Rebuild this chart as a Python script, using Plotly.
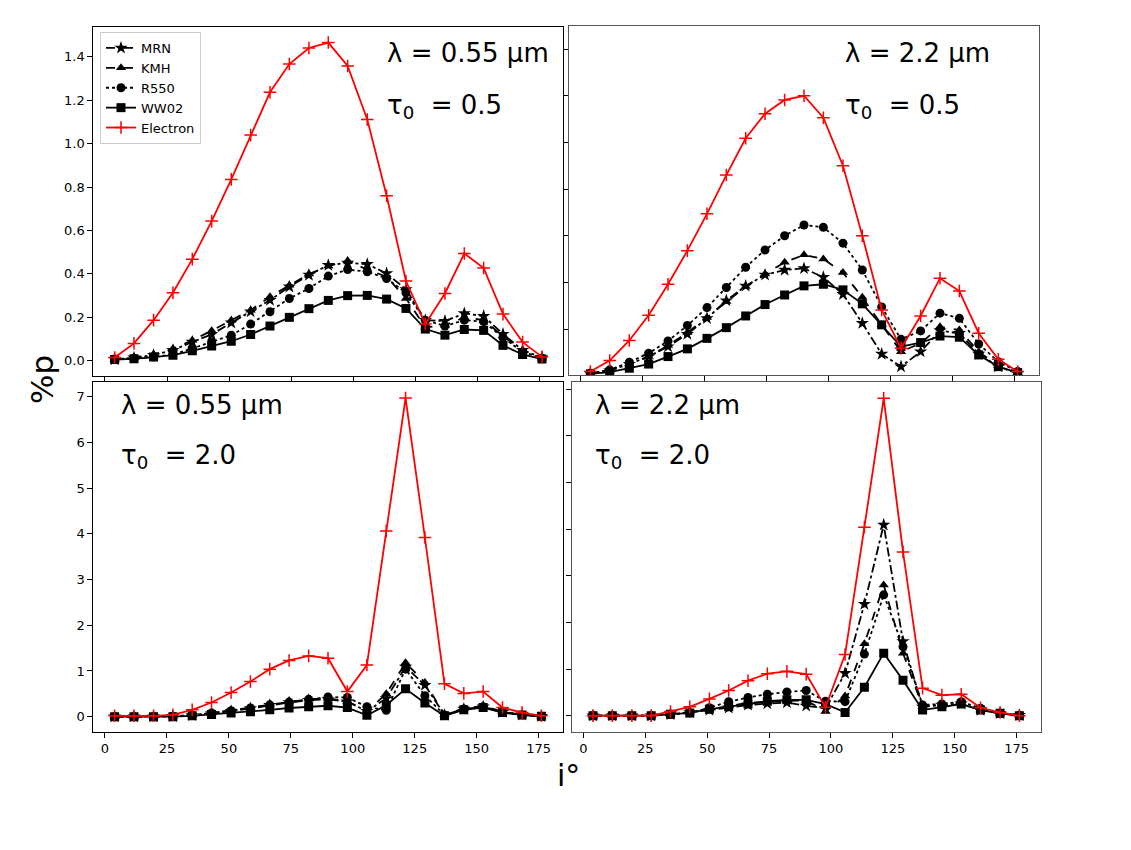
import plotly.graph_objects as go

# viewing angle i (deg), 23 bins
angle_deg = [3.9, 11.7, 19.6, 27.4, 35.2, 43.0, 50.9, 58.7, 66.5, 74.3, 82.2, 90.0,
             97.8, 105.7, 113.5, 121.3, 129.1, 137.0, 144.8, 152.6, 160.4, 168.3, 176.1]

# lambda = 0.55 um, tau0 = 0.5
tl_mrn = [0.006, 0.014, 0.026, 0.049, 0.087, 0.121, 0.175, 0.226, 0.279, 0.341, 0.395, 0.440,
          0.451, 0.445, 0.402, 0.329, 0.187, 0.183, 0.218, 0.206, 0.123, 0.049, 0.015]
tl_kmh = [0.005, 0.013, 0.030, 0.055, 0.095, 0.138, 0.187, 0.233, 0.295, 0.348, 0.399, 0.436,
          0.460, 0.420, 0.387, 0.287, 0.154, 0.164, 0.200, 0.187, 0.114, 0.046, 0.012]
tl_r550 = [0.008, 0.011, 0.018, 0.029, 0.057, 0.087, 0.118, 0.169, 0.226, 0.287, 0.333, 0.390,
           0.420, 0.410, 0.379, 0.313, 0.187, 0.160, 0.187, 0.180, 0.107, 0.041, 0.012]
tl_ww02 = [0.006, 0.009, 0.017, 0.026, 0.046, 0.068, 0.090, 0.121, 0.160, 0.200, 0.240, 0.278,
           0.300, 0.301, 0.284, 0.241, 0.146, 0.118, 0.144, 0.140, 0.071, 0.029, 0.008]
tl_electron = [0.015, 0.080, 0.187, 0.313, 0.468, 0.643, 0.835, 1.039, 1.236, 1.366, 1.440, 1.465,
               1.357, 1.111, 0.760, 0.367, 0.169, 0.310, 0.494, 0.427, 0.215, 0.086, 0.018]

# lambda = 2.2 um, tau0 = 0.5
tr_mrn = [0.011, 0.023, 0.051, 0.083, 0.126, 0.179, 0.247, 0.323, 0.386, 0.433, 0.454, 0.461,
          0.423, 0.350, 0.226, 0.094, 0.040, 0.104, 0.194, 0.183, 0.094, 0.040, 0.011]
tr_kmh = [0.011, 0.023, 0.051, 0.083, 0.130, 0.186, 0.251, 0.319, 0.383, 0.437, 0.487, 0.519,
          0.501, 0.443, 0.337, 0.219, 0.104, 0.140, 0.211, 0.197, 0.104, 0.044, 0.014]
tr_r550 = [0.011, 0.026, 0.059, 0.097, 0.150, 0.216, 0.293, 0.379, 0.466, 0.540, 0.601, 0.647,
           0.637, 0.569, 0.454, 0.296, 0.157, 0.193, 0.269, 0.247, 0.137, 0.061, 0.019]
tr_ww02 = [0.009, 0.016, 0.033, 0.051, 0.083, 0.116, 0.161, 0.207, 0.257, 0.306, 0.347, 0.386,
           0.393, 0.369, 0.309, 0.219, 0.126, 0.143, 0.171, 0.166, 0.090, 0.040, 0.014]
tr_electron = [0.019, 0.066, 0.152, 0.260, 0.393, 0.537, 0.695, 0.861, 1.019, 1.124, 1.183, 1.201,
               1.107, 0.901, 0.601, 0.283, 0.119, 0.257, 0.419, 0.364, 0.183, 0.071, 0.019]

# lambda = 0.55 um, tau0 = 2.0
bl_mrn = [0.0, 0.0, 0.0, 0.01, 0.03, 0.07, 0.12, 0.18, 0.25, 0.31, 0.36, 0.38,
          0.33, 0.12, 0.40, 1.09, 0.69, 0.04, 0.17, 0.22, 0.10, 0.04, 0.01]
bl_kmh = [0.0, 0.0, 0.0, 0.01, 0.04, 0.08, 0.14, 0.20, 0.27, 0.33, 0.38, 0.40,
          0.34, 0.12, 0.50, 1.18, 0.75, 0.05, 0.18, 0.24, 0.11, 0.04, 0.01]
bl_r550 = [0.0, 0.0, 0.0, 0.01, 0.03, 0.08, 0.13, 0.19, 0.26, 0.32, 0.38, 0.43,
           0.42, 0.22, 0.14, 1.04, 0.46, 0.04, 0.17, 0.22, 0.10, 0.04, 0.01]
bl_ww02 = [0.0, 0.0, 0.0, 0.0, 0.02, 0.05, 0.08, 0.11, 0.15, 0.19, 0.22, 0.24,
           0.20, 0.03, 0.25, 0.61, 0.30, 0.02, 0.15, 0.20, 0.09, 0.04, 0.01]
bl_electron = [0.02, 0.02, 0.02, 0.04, 0.15, 0.31, 0.53, 0.77, 1.04, 1.23, 1.33, 1.28,
               0.55, 1.13, 4.06, 6.97, 3.92, 0.72, 0.51, 0.55, 0.20, 0.09, 0.02]

# lambda = 2.2 um, tau0 = 2.0
br_mrn = [0.0, 0.0, 0.0, 0.0, 0.03, 0.07, 0.12, 0.17, 0.23, 0.26, 0.28, 0.21,
          0.16, 0.91, 2.39, 4.09, 1.59, 0.19, 0.23, 0.26, 0.12, 0.05, 0.01]
br_kmh = [0.0, 0.0, 0.0, 0.0, 0.03, 0.07, 0.14, 0.20, 0.28, 0.30, 0.32, 0.33,
          0.09, 0.42, 1.54, 2.80, 1.34, 0.19, 0.23, 0.27, 0.12, 0.05, 0.01]
br_r550 = [0.0, 0.0, 0.0, 0.0, 0.03, 0.06, 0.17, 0.30, 0.39, 0.46, 0.51, 0.54,
           0.31, 0.30, 1.32, 2.59, 1.48, 0.23, 0.25, 0.30, 0.16, 0.05, 0.01]
br_ww02 = [0.0, 0.0, 0.0, 0.0, 0.03, 0.06, 0.14, 0.19, 0.25, 0.31, 0.34, 0.34,
           0.25, 0.07, 0.61, 1.34, 0.76, 0.12, 0.19, 0.25, 0.12, 0.05, 0.0]
br_electron = [0.0, 0.0, 0.0, 0.0, 0.09, 0.19, 0.36, 0.54, 0.75, 0.90, 0.95, 0.89,
               0.18, 1.31, 4.04, 6.80, 3.51, 0.59, 0.44, 0.46, 0.17, 0.07, 0.0]

model_names = ["MRN", "KMH", "R550", "WW02", "Electron"]
panel_labels = [("λ = 0.55 μm", "0.5"), ("λ = 2.2 μm", "0.5"),
                ("λ = 0.55 μm", "2.0"), ("λ = 2.2 μm", "2.0")]

W, H = 1131, 850
FONT = "DejaVu Sans"

styles = {
    "MRN": dict(line=dict(color="black", width=1.8, dash="dashdot"),
                marker=dict(symbol="star", size=10, color="black")),
    "KMH": dict(line=dict(color="black", width=1.8, dash="dash"),
                marker=dict(symbol="triangle-up", size=9, color="black")),
    "R550": dict(line=dict(color="black", width=1.8, dash="dot"),
                 marker=dict(symbol="circle", size=9, color="black")),
    "WW02": dict(line=dict(color="black", width=1.8),
                 marker=dict(symbol="square", size=9, color="black")),
    "Electron": dict(line=dict(color="red", width=1.8),
                     marker=dict(symbol="cross-thin", size=9, color="red",
                                 line=dict(color="red", width=1.5))),
}

panels = [
    (tl_mrn, tl_kmh, tl_r550, tl_ww02, tl_electron),
    (tr_mrn, tr_kmh, tr_r550, tr_ww02, tr_electron),
    (bl_mrn, bl_kmh, bl_r550, bl_ww02, bl_electron),
    (br_mrn, br_kmh, br_r550, br_ww02, br_electron),
]

# pixel boxes of each axes: left, right, top, bottom
boxes = [(93.3, 563.3, 26.7, 376.0), (569.0, 1039.0, 26.0, 375.0),
         (93.3, 562.7, 382.3, 731.7), (571.7, 1040.7, 382.3, 731.7)]
yranges = [[-0.070, 1.538], [0.004, 1.5], [-0.328, 7.315], [-0.343, 7.144]]
ytickvals = [[0, 0.2, 0.4, 0.6, 0.8, 1.0, 1.2, 1.4], [0.2, 0.4, 0.6, 0.8, 1.0, 1.2, 1.4],
             [0, 1, 2, 3, 4, 5, 6, 7], [0, 1, 2, 3, 4, 5, 6, 7]]

fig = go.Figure()

for p, series in enumerate(panels):
    sfx = "" if p == 0 else str(p + 1)
    for name, vals in zip(model_names, series):
        fig.add_trace(go.Scatter(
            x=angle_deg, y=vals, mode="lines+markers", name=name,
            xaxis="x" + sfx, yaxis="y" + sfx,
            showlegend=(p == 0), **styles[name]))

axis_common = dict(showgrid=False, zeroline=False, showline=True, mirror=True,
                   ticks="outside", ticklen=5, tickwidth=1, tickcolor="black",
                   tickfont=dict(family=FONT, size=13, color="black"))

layout = {}
for p, (l, r, t, b) in enumerate(boxes):
    sfx = "" if p == 0 else str(p + 1)
    frame_col = "black" if p in (0, 2) else "#555555"
    layout["xaxis" + sfx] = dict(
        domain=[l / W, r / W], range=[-4.7, 184.7], anchor="y" + sfx,
        tickvals=[0, 25, 50, 75, 100, 125, 150, 175],
        showticklabels=(p >= 2), linecolor=frame_col, **axis_common)
    layout["yaxis" + sfx] = dict(
        domain=[1 - b / H, 1 - t / H], range=yranges[p], anchor="x" + sfx,
        tickvals=ytickvals[p], tickformat=".1f" if p == 0 else "d",
        showticklabels=(p in (0, 2)), linecolor=frame_col, **axis_common)

# panel texts (wavelength and optical depth)
text_pos = [(385, 53, 106), (843, 53, 106), (119, 405, 457), (593, 405, 457)]
annotations = []
for (lam, tau), (tx, ly, ty) in zip(panel_labels, text_pos):
    annotations.append(dict(x=tx / W, y=1 - ly / H, xref="paper", yref="paper",
                            text=lam, showarrow=False, xanchor="left", yanchor="middle",
                            font=dict(family=FONT, size=26, color="black")))
    annotations.append(dict(x=tx / W, y=1 - ty / H, xref="paper", yref="paper",
                            text="τ<sub>0</sub>&nbsp; = " + tau, showarrow=False,
                            xanchor="left", yanchor="middle",
                            font=dict(family=FONT, size=26, color="black")))

annotations.append(dict(x=568 / W, y=1 - 775 / H, xref="paper", yref="paper", text="i°",
                        showarrow=False, xanchor="center", yanchor="middle",
                        font=dict(family=FONT, size=30, color="black")))
annotations.append(dict(x=42 / W, y=1 - 380 / H, xref="paper", yref="paper", text="%p",
                        showarrow=False, xanchor="center", yanchor="middle", textangle=-90,
                        font=dict(family=FONT, size=31, color="black")))

fig.update_layout(
    width=W, height=H, margin=dict(l=0, r=0, t=0, b=0),
    paper_bgcolor="white", plot_bgcolor="white",
    font=dict(family=FONT, color="black"),
    annotations=annotations,
    legend=dict(x=100 / W, y=1 - 32 / H, xanchor="left", yanchor="top",
                bgcolor="white", bordercolor="#cccccc", borderwidth=1,
                font=dict(family=FONT, size=13, color="black"),
                tracegroupgap=0, itemwidth=30),
    **layout,
)

# drop the default page margin so the figure sits at the window origin
fig.write_html("out.html", config={"displayModeBar": False},
               post_script="document.body.style.margin='0';")
